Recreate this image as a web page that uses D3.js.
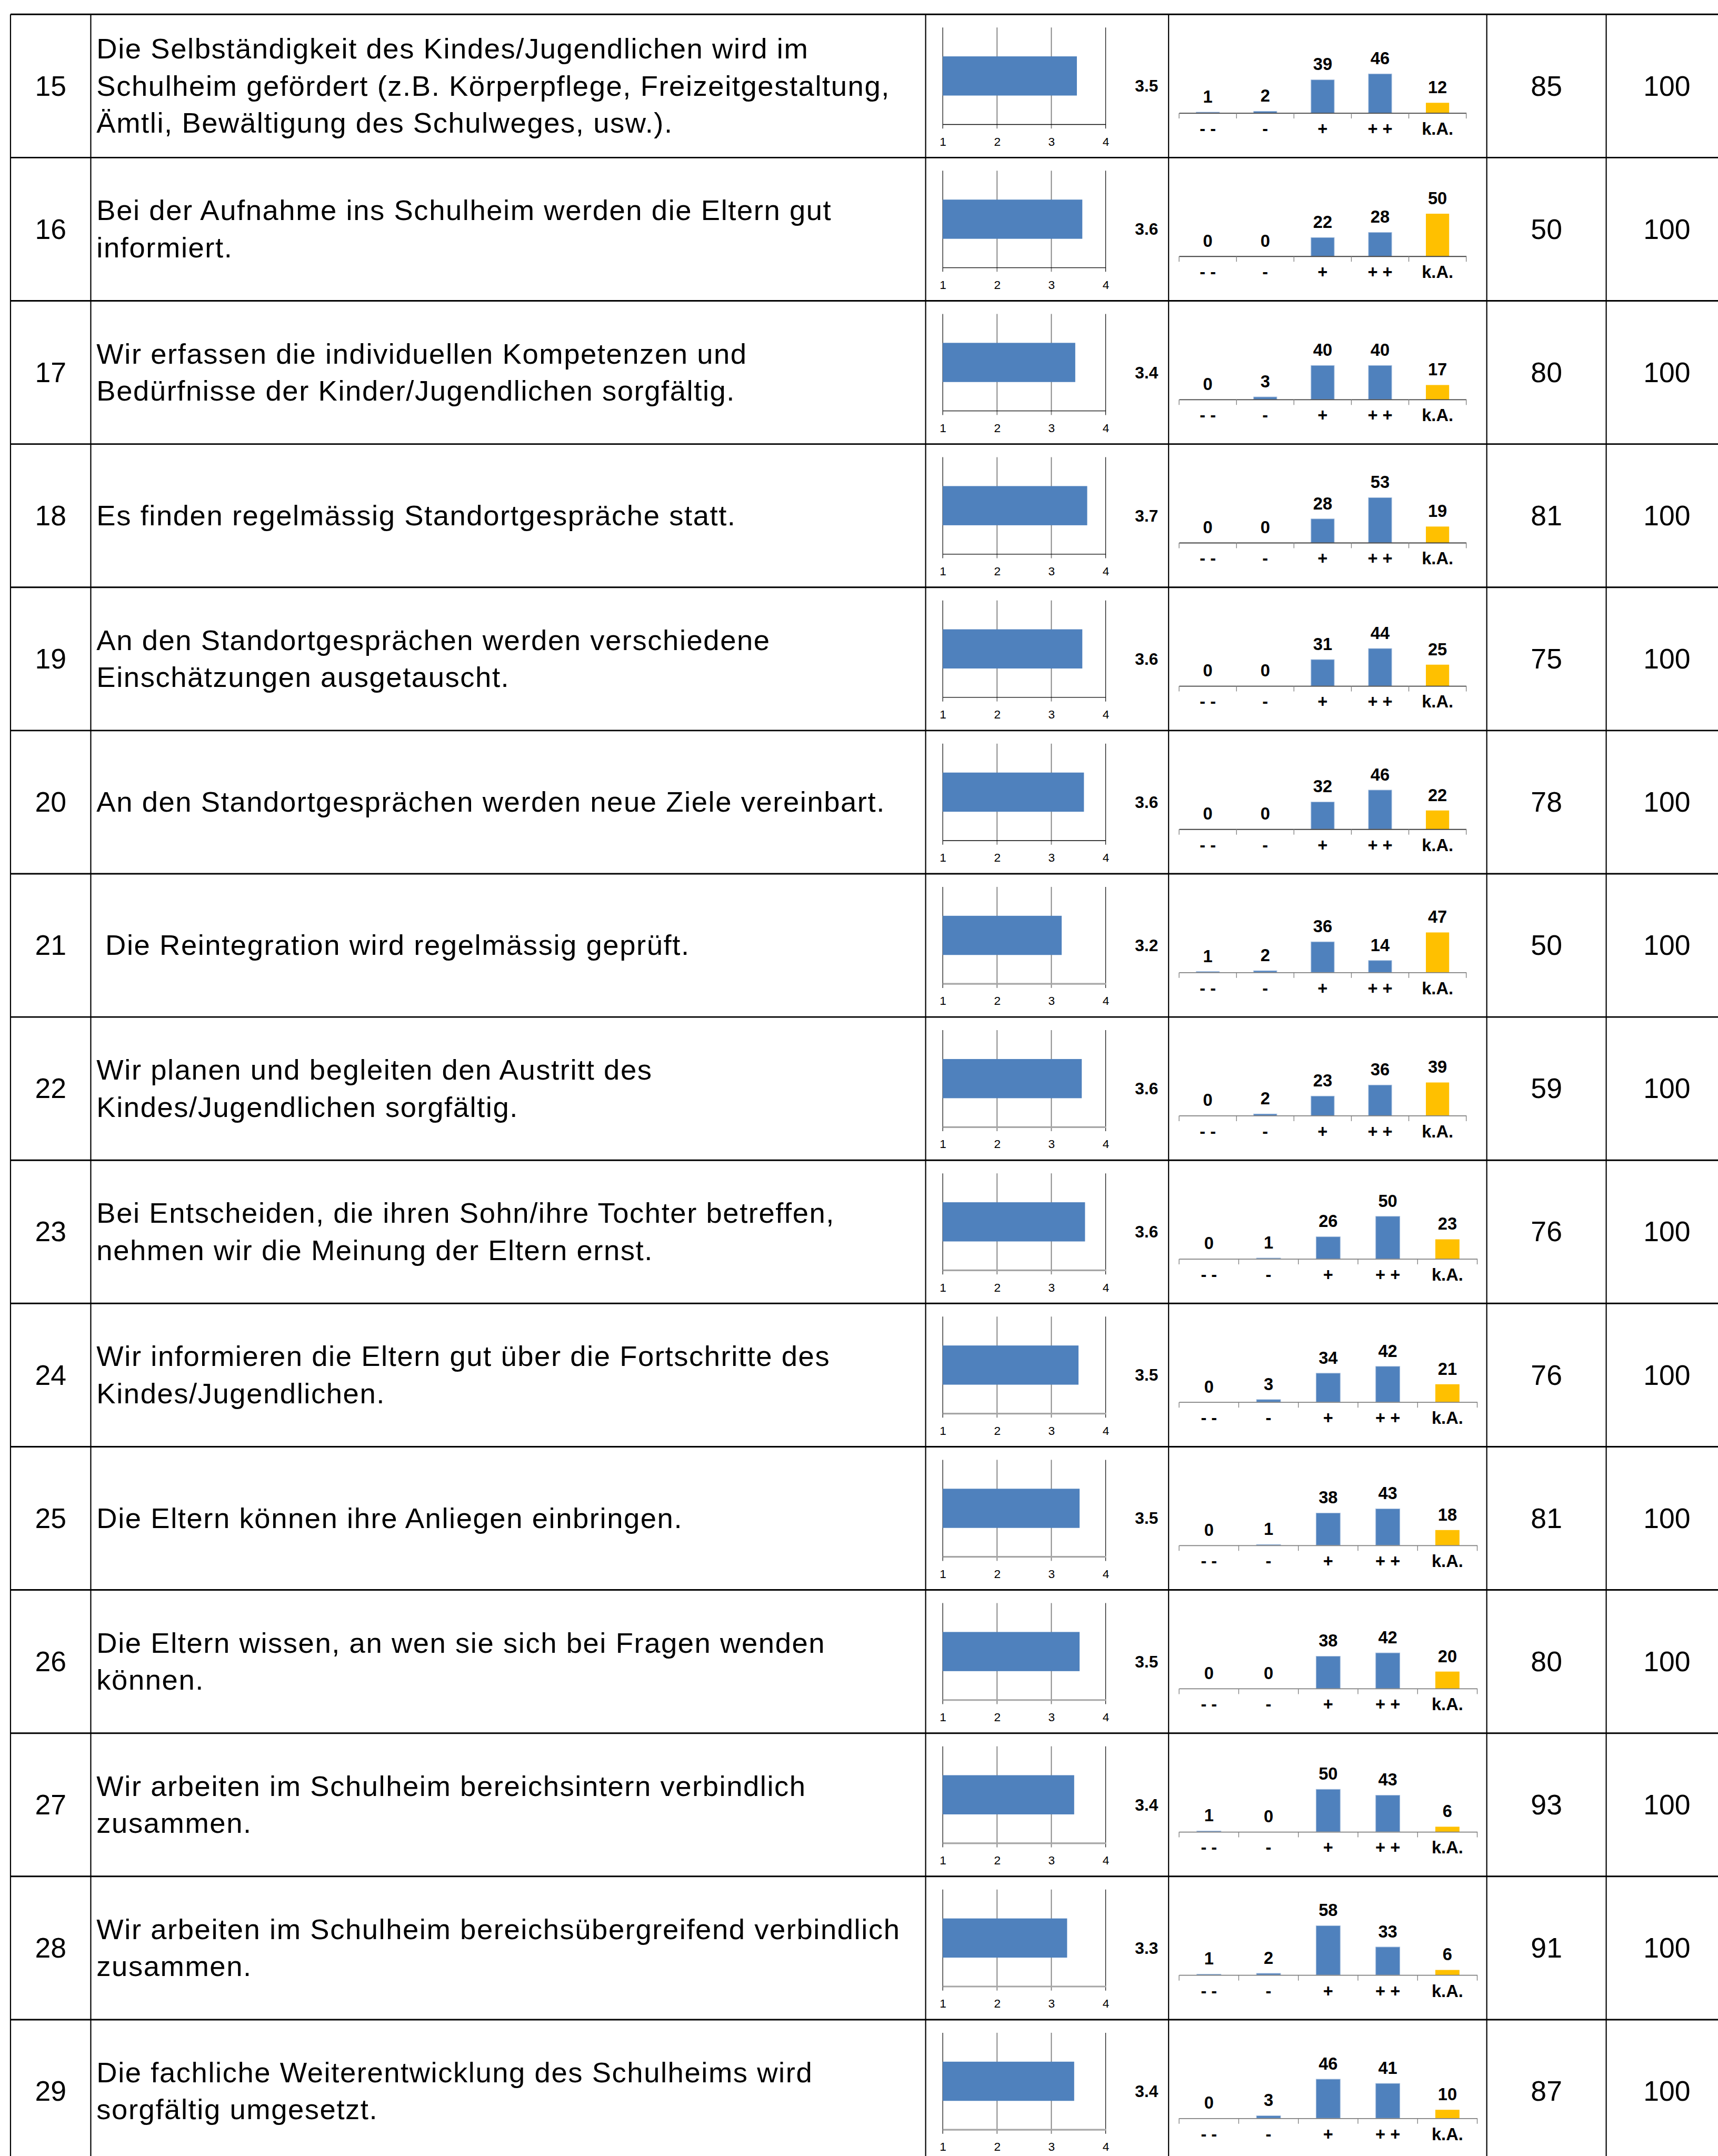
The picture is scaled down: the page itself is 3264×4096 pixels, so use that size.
<!DOCTYPE html>
<html lang="de">
<head>
<meta charset="UTF-8">
<title>Schulheim Befragung</title>
<script src="https://d3js.org/d3.v7.min.js"></script>
<style>
  body { margin: 0; background: #fff; }
  svg { display: block; }
  text { font-family: "Liberation Sans", Arial, sans-serif; }
</style>
</head>
<body>
<div id="tabelle"></div>
<script>
// -- Daten --
const itemNr = [15, 16, 17, 18, 19, 20, 21, 22, 23, 24, 25, 26, 27, 28, 29];
const itemText = [
  "Die Selbständigkeit des Kindes/Jugendlichen wird im\nSchulheim gefördert (z.B. Körperpflege, Freizeitgestaltung,\nÄmtli, Bewältigung des Schulweges, usw.).",
  "Bei der Aufnahme ins Schulheim werden die Eltern gut\ninformiert.",
  "Wir erfassen die individuellen Kompetenzen und\nBedürfnisse der Kinder/Jugendlichen sorgfältig.",
  "Es finden regelmässig Standortgespräche statt.",
  "An den Standortgesprächen werden verschiedene\nEinschätzungen ausgetauscht.",
  "An den Standortgesprächen werden neue Ziele vereinbart.",
  " Die Reintegration wird regelmässig geprüft.",
  "Wir planen und begleiten den Austritt des\nKindes/Jugendlichen sorgfältig.",
  "Bei Entscheiden, die ihren Sohn/ihre Tochter betreffen,\nnehmen wir die Meinung der Eltern ernst.",
  "Wir informieren die Eltern gut über die Fortschritte des\nKindes/Jugendlichen.",
  "Die Eltern können ihre Anliegen einbringen.",
  "Die Eltern wissen, an wen sie sich bei Fragen wenden\nkönnen.",
  "Wir arbeiten im Schulheim bereichsintern verbindlich\nzusammen.",
  "Wir arbeiten im Schulheim bereichsübergreifend verbindlich\nzusammen.",
  "Die fachliche Weiterentwicklung des Schulheims wird\nsorgfältig umgesetzt."
];
// Mittelwerte (aus Balkenlänge geschätzt, Anzeige gerundet)
const mittelwert = [3.47, 3.57, 3.44, 3.66, 3.57, 3.6, 3.19, 3.56, 3.62, 3.5, 3.52, 3.52, 3.42, 3.29, 3.42];
const skalaTicks = [1, 2, 3, 4];

const kategorien = ["- -", "-", "+", "+ +", "k.A."];
const nMinusMinus = [1, 0, 0, 0, 0, 0, 1, 0, 0, 0, 0, 0, 1, 1, 0];
const nMinus      = [2, 0, 3, 0, 0, 0, 2, 2, 1, 3, 1, 0, 0, 2, 3];
const nPlus       = [39, 22, 40, 28, 31, 32, 36, 23, 26, 34, 38, 38, 50, 58, 46];
const nPlusPlus   = [46, 28, 40, 53, 44, 46, 14, 36, 50, 42, 43, 42, 43, 33, 41];
const nKeineAngabe = [12, 50, 17, 19, 25, 22, 47, 39, 23, 21, 18, 20, 6, 6, 10];
const antworten = [85, 50, 80, 81, 75, 78, 50, 59, 76, 76, 81, 80, 93, 91, 87];
const total = [100, 100, 100, 100, 100, 100, 100, 100, 100, 100, 100, 100, 100, 100, 100];

// -- Dimensionen (Referenz 3596 x 4512, skaliert) --
const W = 3264, H = 4096;
const k = W / 3596;
const rowH = 299.8, yStart = 30;
const colX = [22, 190, 1937.5, 2446, 3112, 3362];

const svg = d3.select("#tabelle").append("svg")
    .attr("width", W)
    .attr("height", H);
const g = svg.append("g").attr("transform", `scale(${k})`);

const rowY = d3.scaleBand()
    .domain(itemNr)
    .range([yStart, yStart + rowH * itemNr.length]);

const xMittel = d3.scaleLinear().domain([1, 4]).range([1973.3, 2314.3]);
const hAnzahl = d3.scaleLinear().domain([0, 100]).range([0, 178]);

const blau = "#4F81BD", gelb = "#FFC000";

itemNr.forEach((nr, i) => {
  const y0 = rowY(nr);
  const row = g.append("g").attr("transform", `translate(0,${y0})`);

  // Nummer
  row.append("text")
      .attr("x", 106).attr("y", 170)
      .attr("text-anchor", "middle")
      .style("font-size", "59px")
      .text(nr);

  // Aussage (zentriert auf mehrere Zeilen)
  const lines = itemText[i].split("\n");
  const lh = 77.5;
  const t = row.append("text")
      .attr("x", 202)
      .style("font-size", "60px")
      .style("letter-spacing", "1.7px")
      .style("white-space", "pre");
  lines.forEach((l, j) => {
    t.append("tspan")
        .attr("x", 202)
        .attr("y", 170 + (j - (lines.length - 1) / 2) * lh)
        .text(l);
  });

  // -- Mittelwert-Diagramm --
  const grau = i >= 6;
  row.selectAll(".grid")
      .data(skalaTicks)
      .enter().append("line")
      .attr("x1", d => xMittel(d)).attr("x2", d => xMittel(d))
      .attr("y1", 27.5).attr("y2", 239)
      .attr("stroke", d => (d === 1 || d === 4) ? "#000" : "#7f7f7f")
      .attr("stroke-width", d => (d === 1 || d === 4) ? 1.3 : 2);

  row.append("rect")
      .attr("x", xMittel(1))
      .attr("y", 88)
      .attr("width", xMittel(mittelwert[i]) - xMittel(1))
      .attr("height", 82)
      .attr("fill", blau);

  const ax = row.append("g")
      .attr("transform", "translate(0,230)")
      .call(d3.axisBottom(xMittel).tickValues(skalaTicks).tickFormat(d3.format("d"))
          .tickSize(0).tickSizeOuter(0).tickPadding(27));
  ax.select(".domain")
      .attr("stroke", grau ? "#a6a6a6" : "#000")
      .attr("stroke-width", grau ? 3.5 : 1.5);
  ax.selectAll("text")
      .style("font-size", "25px")
      .style("font-family", "Liberation Sans, Arial, sans-serif")
      .attr("fill", "#000");

  row.append("text")
      .attr("x", 2400).attr("y", 162)
      .attr("text-anchor", "middle")
      .style("font-size", "35px")
      .style("font-weight", "bold")
      .text(mittelwert[i].toFixed(1));

  // -- Verteilungs-Diagramm --
  const werte = [nMinusMinus[i], nMinus[i], nPlus[i], nPlusPlus[i], nKeineAngabe[i]];
  const xKat = d3.scaleBand()
      .domain(kategorien)
      .range([2468, nr >= 23 ? 3092 : 3069]);
  const basis = 206.5;
  const bw = xKat.bandwidth() * 0.405;

  row.selectAll(".bar")
      .data(werte)
      .enter().append("rect")
      .attr("x", (d, j) => xKat(kategorien[j]) + (xKat.bandwidth() - bw) / 2)
      .attr("y", d => basis - hAnzahl(d))
      .attr("width", bw)
      .attr("height", d => hAnzahl(d))
      .attr("fill", (d, j) => j === 4 ? gelb : blau)
      .attr("stroke", (d, j) => j === 4 ? "none" : "#a9c1e0")
      .attr("stroke-width", 1.2);

  row.selectAll(".barlabel")
      .data(werte)
      .enter().append("text")
      .attr("x", (d, j) => xKat(kategorien[j]) + xKat.bandwidth() / 2)
      .attr("y", d => basis - hAnzahl(d) - 20)
      .attr("text-anchor", "middle")
      .style("font-size", "36px")
      .style("font-weight", "bold")
      .text(d => d);

  const ax2 = row.append("g")
      .attr("transform", `translate(0,${basis})`)
      .call(d3.axisBottom(xKat).tickSize(0).tickSizeOuter(0).tickPadding(20));
  ax2.select(".domain")
      .attr("stroke", grau ? "#7f7f7f" : "#404040")
      .attr("stroke-width", 2);
  ax2.selectAll("text")
      .style("font-size", "36px")
      .style("font-weight", "bold")
      .style("font-family", "Liberation Sans, Arial, sans-serif")
      .attr("fill", "#000");
  row.selectAll(".kattick")
      .data(d3.range(kategorien.length + 1))
      .enter().append("line")
      .attr("x1", j => xKat.range()[0] + j * xKat.step())
      .attr("x2", j => xKat.range()[0] + j * xKat.step())
      .attr("y1", basis).attr("y2", basis + 11.5)
      .attr("stroke", "#7f7f7f")
      .attr("stroke-width", 1.5);

  // Antworten / Total
  row.append("text")
      .attr("x", 3237).attr("y", 170)
      .attr("text-anchor", "middle")
      .style("font-size", "59px")
      .text(antworten[i]);
  row.append("text")
      .attr("x", 3489).attr("y", 170)
      .attr("text-anchor", "middle")
      .style("font-size", "59px")
      .text(total[i]);
});

// -- Tabellenlinien --
const yLines = d3.range(itemNr.length + 1).map(j => yStart + j * rowH);
g.selectAll(".hline")
    .data(yLines)
    .enter().append("line")
    .attr("x1", colX[0]).attr("x2", 3600)
    .attr("y1", d => d).attr("y2", d => d)
    .attr("stroke", "#000")
    .attr("stroke-width", 3.2);
g.selectAll(".vline")
    .data(colX)
    .enter().append("line")
    .attr("x1", d => d).attr("x2", d => d)
    .attr("y1", yStart).attr("y2", 4520)
    .attr("stroke", "#000")
    .attr("stroke-width", 2.4);
</script>
</body>
</html>
